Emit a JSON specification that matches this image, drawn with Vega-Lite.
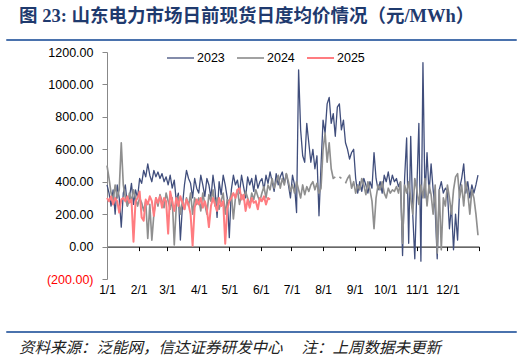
{
"$schema":"https://vega.github.io/schema/vega-lite/v6.json",
"padding":{"left":5,"top":6,"right":5,"bottom":0},
"background":"white",
"config":{"view":{"stroke":null},"font":"Liberation Sans"},
"datasets":{"prices":[
{"s":"2023","d":0,"v":380},{"s":"2023","d":2,"v":330},{"s":"2023","d":4,"v":250},{"s":"2023","d":6,"v":350},{"s":"2023","d":8,"v":200},{"s":"2023","d":10,"v":380},{"s":"2023","d":12,"v":300},{"s":"2023","d":14,"v":120},{"s":"2023","d":16,"v":330},{"s":"2023","d":18,"v":380},{"s":"2023","d":20,"v":250},{"s":"2023","d":22,"v":300},{"s":"2023","d":24,"v":390},{"s":"2023","d":26,"v":260},{"s":"2023","d":28,"v":350},{"s":"2023","d":30,"v":300},
{"s":"2023","d":32,"v":420},{"s":"2023","d":34,"v":390},{"s":"2023","d":36,"v":470},{"s":"2023","d":38,"v":430},{"s":"2023","d":40,"v":510},{"s":"2023","d":42,"v":440},{"s":"2023","d":44,"v":400},{"s":"2023","d":46,"v":470},{"s":"2023","d":48,"v":430},{"s":"2023","d":50,"v":460},{"s":"2023","d":52,"v":420},{"s":"2023","d":54,"v":450},{"s":"2023","d":56,"v":400},{"s":"2023","d":58,"v":430},
{"s":"2023","d":60,"v":380},{"s":"2023","d":62,"v":440},{"s":"2023","d":64,"v":360},{"s":"2023","d":66,"v":410},{"s":"2023","d":68,"v":280},{"s":"2023","d":70,"v":330},{"s":"2023","d":72,"v":40},{"s":"2023","d":74,"v":250},{"s":"2023","d":76,"v":380},{"s":"2023","d":78,"v":470},{"s":"2023","d":80,"v":420},{"s":"2023","d":82,"v":390},{"s":"2023","d":84,"v":300},{"s":"2023","d":86,"v":420},{"s":"2023","d":88,"v":360},
{"s":"2023","d":90,"v":330},{"s":"2023","d":92,"v":440},{"s":"2023","d":94,"v":380},{"s":"2023","d":96,"v":310},{"s":"2023","d":98,"v":420},{"s":"2023","d":100,"v":380},{"s":"2023","d":102,"v":300},{"s":"2023","d":104,"v":440},{"s":"2023","d":106,"v":350},{"s":"2023","d":108,"v":180},{"s":"2023","d":110,"v":400},{"s":"2023","d":112,"v":320},{"s":"2023","d":114,"v":440},{"s":"2023","d":116,"v":380},{"s":"2023","d":118,"v":300},
{"s":"2023","d":120,"v":55},{"s":"2023","d":122,"v":350},{"s":"2023","d":124,"v":440},{"s":"2023","d":126,"v":380},{"s":"2023","d":128,"v":410},{"s":"2023","d":130,"v":330},{"s":"2023","d":132,"v":440},{"s":"2023","d":134,"v":370},{"s":"2023","d":136,"v":300},{"s":"2023","d":138,"v":430},{"s":"2023","d":140,"v":380},{"s":"2023","d":142,"v":420},{"s":"2023","d":144,"v":340},{"s":"2023","d":146,"v":440},{"s":"2023","d":148,"v":360},{"s":"2023","d":150,"v":400},
{"s":"2023","d":152,"v":420},{"s":"2023","d":154,"v":350},{"s":"2023","d":156,"v":440},{"s":"2023","d":158,"v":390},{"s":"2023","d":160,"v":460},{"s":"2023","d":162,"v":400},{"s":"2023","d":164,"v":340},{"s":"2023","d":166,"v":450},{"s":"2023","d":168,"v":380},{"s":"2023","d":170,"v":430},{"s":"2023","d":172,"v":460},{"s":"2023","d":174,"v":390},{"s":"2023","d":176,"v":450},{"s":"2023","d":178,"v":380},{"s":"2023","d":180,"v":300},
{"s":"2023","d":182,"v":440},{"s":"2023","d":184,"v":380},{"s":"2023","d":186,"v":210},{"s":"2023","d":188,"v":1090},{"s":"2023","d":190,"v":720},{"s":"2023","d":192,"v":560},{"s":"2023","d":194,"v":520},{"s":"2023","d":196,"v":760},{"s":"2023","d":198,"v":640},{"s":"2023","d":200,"v":520},{"s":"2023","d":202,"v":600},{"s":"2023","d":204,"v":480},{"s":"2023","d":206,"v":560},{"s":"2023","d":208,"v":190},{"s":"2023","d":210,"v":500},
{"s":"2023","d":212,"v":780},{"s":"2023","d":214,"v":700},{"s":"2023","d":216,"v":880},{"s":"2023","d":218,"v":920},{"s":"2023","d":220,"v":760},{"s":"2023","d":222,"v":820},{"s":"2023","d":224,"v":680},{"s":"2023","d":226,"v":860},{"s":"2023","d":228,"v":880},{"s":"2023","d":230,"v":720},{"s":"2023","d":232,"v":780},{"s":"2023","d":234,"v":640},{"s":"2023","d":236,"v":600},{"s":"2023","d":238,"v":540},{"s":"2023","d":240,"v":580},
{"s":"2023","d":242,"v":600},{"s":"2023","d":244,"v":420},{"s":"2023","d":246,"v":330},{"s":"2023","d":248,"v":400},{"s":"2023","d":250,"v":340},{"s":"2023","d":252,"v":420},{"s":"2023","d":254,"v":380},{"s":"2023","d":256,"v":330},{"s":"2023","d":258,"v":400},{"s":"2023","d":260,"v":360},{"s":"2023","d":262,"v":580},{"s":"2023","d":264,"v":420},{"s":"2023","d":266,"v":350},{"s":"2023","d":268,"v":400},{"s":"2023","d":270,"v":330},{"s":"2023","d":272,"v":440},
{"s":"2023","d":274,"v":400},{"s":"2023","d":276,"v":460},{"s":"2023","d":278,"v":380},{"s":"2023","d":280,"v":440},{"s":"2023","d":282,"v":400},{"s":"2023","d":284,"v":420},{"s":"2023","d":286,"v":370},{"s":"2023","d":288,"v":400},{"s":"2023","d":290,"v":-55},{"s":"2023","d":292,"v":420},{"s":"2023","d":294,"v":670},{"s":"2023","d":296,"v":20},{"s":"2023","d":298,"v":680},{"s":"2023","d":300,"v":200},{"s":"2023","d":302,"v":-75},
{"s":"2023","d":304,"v":350},{"s":"2023","d":306,"v":760},{"s":"2023","d":308,"v":-90},{"s":"2023","d":310,"v":1135},{"s":"2023","d":312,"v":300},{"s":"2023","d":314,"v":580},{"s":"2023","d":316,"v":330},{"s":"2023","d":318,"v":510},{"s":"2023","d":320,"v":350},{"s":"2023","d":322,"v":230},{"s":"2023","d":324,"v":-75},{"s":"2023","d":326,"v":350},{"s":"2023","d":328,"v":400},{"s":"2023","d":330,"v":330},{"s":"2023","d":332,"v":360},
{"s":"2023","d":334,"v":340},{"s":"2023","d":336,"v":110},{"s":"2023","d":338,"v":250},{"s":"2023","d":340,"v":-20},{"s":"2023","d":342,"v":200},{"s":"2023","d":344,"v":40},{"s":"2023","d":346,"v":360},{"s":"2023","d":348,"v":420},{"s":"2023","d":350,"v":510},{"s":"2023","d":352,"v":330},{"s":"2023","d":354,"v":400},{"s":"2023","d":356,"v":300},{"s":"2023","d":358,"v":380},{"s":"2023","d":360,"v":330},{"s":"2023","d":362,"v":380},{"s":"2023","d":364,"v":440},
{"s":"2024","d":0,"v":500},{"s":"2024","d":2,"v":420},{"s":"2024","d":4,"v":330},{"s":"2024","d":6,"v":280},{"s":"2024","d":8,"v":380},{"s":"2024","d":10,"v":300},{"s":"2024","d":12,"v":350},{"s":"2024","d":14,"v":640},{"s":"2024","d":16,"v":380},{"s":"2024","d":18,"v":300},{"s":"2024","d":20,"v":250},{"s":"2024","d":22,"v":330},{"s":"2024","d":24,"v":280},{"s":"2024","d":26,"v":350},{"s":"2024","d":28,"v":300},{"s":"2024","d":30,"v":250},
{"s":"2024","d":32,"v":300},{"s":"2024","d":34,"v":270},{"s":"2024","d":36,"v":220},{"s":"2024","d":38,"v":280},{"s":"2024","d":40,"v":50},{"s":"2024","d":42,"v":260},{"s":"2024","d":44,"v":40},{"s":"2024","d":46,"v":200},{"s":"2024","d":48,"v":300},{"s":"2024","d":50,"v":250},{"s":"2024","d":52,"v":320},{"s":"2024","d":54,"v":280},{"s":"2024","d":56,"v":240},{"s":"2024","d":58,"v":330},
{"s":"2024","d":60,"v":280},{"s":"2024","d":62,"v":230},{"s":"2024","d":64,"v":300},{"s":"2024","d":66,"v":10},{"s":"2024","d":68,"v":250},{"s":"2024","d":70,"v":310},{"s":"2024","d":72,"v":200},{"s":"2024","d":74,"v":280},{"s":"2024","d":76,"v":230},{"s":"2024","d":78,"v":300},{"s":"2024","d":80,"v":250},{"s":"2024","d":82,"v":330},{"s":"2024","d":84,"v":200},{"s":"2024","d":86,"v":300},{"s":"2024","d":88,"v":260},
{"s":"2024","d":90,"v":300},{"s":"2024","d":92,"v":220},{"s":"2024","d":94,"v":330},{"s":"2024","d":96,"v":260},{"s":"2024","d":98,"v":200},{"s":"2024","d":100,"v":320},{"s":"2024","d":102,"v":280},{"s":"2024","d":104,"v":350},{"s":"2024","d":106,"v":250},{"s":"2024","d":108,"v":300},{"s":"2024","d":110,"v":230},{"s":"2024","d":112,"v":280},{"s":"2024","d":114,"v":330},{"s":"2024","d":116,"v":200},{"s":"2024","d":118,"v":290},
{"s":"2024","d":120,"v":280},{"s":"2024","d":122,"v":330},{"s":"2024","d":124,"v":170},{"s":"2024","d":126,"v":300},{"s":"2024","d":128,"v":350},{"s":"2024","d":130,"v":260},{"s":"2024","d":132,"v":320},{"s":"2024","d":134,"v":290},{"s":"2024","d":136,"v":340},{"s":"2024","d":138,"v":300},{"s":"2024","d":140,"v":250},{"s":"2024","d":142,"v":330},{"s":"2024","d":144,"v":290},{"s":"2024","d":146,"v":350},{"s":"2024","d":148,"v":310},{"s":"2024","d":150,"v":280},
{"s":"2024","d":152,"v":330},{"s":"2024","d":154,"v":370},{"s":"2024","d":156,"v":300},{"s":"2024","d":158,"v":380},{"s":"2024","d":160,"v":350},{"s":"2024","d":162,"v":420},{"s":"2024","d":164,"v":360},{"s":"2024","d":166,"v":400},{"s":"2024","d":168,"v":440},{"s":"2024","d":170,"v":360},{"s":"2024","d":172,"v":420},{"s":"2024","d":174,"v":380},{"s":"2024","d":176,"v":450},{"s":"2024","d":178,"v":400},{"s":"2024","d":180,"v":340},
{"s":"2024","d":182,"v":380},{"s":"2024","d":184,"v":330},{"s":"2024","d":186,"v":400},{"s":"2024","d":188,"v":350},{"s":"2024","d":190,"v":300},{"s":"2024","d":192,"v":380},{"s":"2024","d":194,"v":320},{"s":"2024","d":196,"v":370},{"s":"2024","d":198,"v":340},{"s":"2024","d":200,"v":380},{"s":"2024","d":202,"v":400},{"s":"2024","d":204,"v":350},{"s":"2024","d":206,"v":390},{"s":"2024","d":208,"v":330},{"s":"2024","d":210,"v":360},
{"s":"2024","d":212,"v":600},{"s":"2024","d":214,"v":700},{"s":"2024","d":216,"v":520},{"s":"2024","d":218,"v":640},{"s":"2024","d":220,"v":480},{"s":"2024","d":222,"v":420},{"s":"2024","d":224,"v":430},{"s":"2024","d":226,"v":null},{"s":"2024","d":228,"v":430},{"s":"2024","d":230,"v":420},{"s":"2024","d":232,"v":null},{"s":"2024","d":234,"v":390},{"s":"2024","d":236,"v":420},
{"s":"2024","d":238,"v":440},{"s":"2024","d":240,"v":360},{"s":"2024","d":242,"v":400},{"s":"2024","d":244,"v":330},{"s":"2024","d":246,"v":380},{"s":"2024","d":248,"v":350},{"s":"2024","d":250,"v":420},{"s":"2024","d":252,"v":380},{"s":"2024","d":254,"v":320},{"s":"2024","d":256,"v":400},{"s":"2024","d":258,"v":350},{"s":"2024","d":260,"v":280},{"s":"2024","d":262,"v":110},{"s":"2024","d":264,"v":300},{"s":"2024","d":266,"v":380},{"s":"2024","d":268,"v":350},{"s":"2024","d":270,"v":400},{"s":"2024","d":272,"v":330},
{"s":"2024","d":274,"v":300},{"s":"2024","d":276,"v":360},{"s":"2024","d":278,"v":330},{"s":"2024","d":280,"v":350},{"s":"2024","d":282,"v":340},{"s":"2024","d":284,"v":370},{"s":"2024","d":286,"v":330},{"s":"2024","d":288,"v":400},{"s":"2024","d":290,"v":20},{"s":"2024","d":292,"v":380},{"s":"2024","d":294,"v":330},{"s":"2024","d":296,"v":400},{"s":"2024","d":298,"v":300},{"s":"2024","d":300,"v":200},{"s":"2024","d":302,"v":420},{"s":"2024","d":304,"v":350},{"s":"2024","d":306,"v":260},
{"s":"2024","d":308,"v":380},{"s":"2024","d":310,"v":300},{"s":"2024","d":312,"v":420},{"s":"2024","d":314,"v":250},{"s":"2024","d":316,"v":380},{"s":"2024","d":318,"v":320},{"s":"2024","d":320,"v":200},{"s":"2024","d":322,"v":380},{"s":"2024","d":324,"v":-40},{"s":"2024","d":326,"v":350},{"s":"2024","d":328,"v":-20},{"s":"2024","d":330,"v":300},{"s":"2024","d":332,"v":250},{"s":"2024","d":334,"v":380},
{"s":"2024","d":336,"v":300},{"s":"2024","d":338,"v":200},{"s":"2024","d":340,"v":350},{"s":"2024","d":342,"v":430},{"s":"2024","d":344,"v":450},{"s":"2024","d":346,"v":300},{"s":"2024","d":348,"v":380},{"s":"2024","d":350,"v":250},{"s":"2024","d":352,"v":400},{"s":"2024","d":354,"v":330},{"s":"2024","d":356,"v":200},{"s":"2024","d":358,"v":350},{"s":"2024","d":360,"v":300},{"s":"2024","d":362,"v":200},{"s":"2024","d":364,"v":70},
{"s":"2025","d":0,"v":300},{"s":"2025","d":2,"v":280},{"s":"2025","d":4,"v":310},{"s":"2025","d":6,"v":260},{"s":"2025","d":8,"v":300},{"s":"2025","d":10,"v":280},{"s":"2025","d":12,"v":210},{"s":"2025","d":14,"v":290},{"s":"2025","d":16,"v":300},{"s":"2025","d":18,"v":280},{"s":"2025","d":20,"v":310},{"s":"2025","d":22,"v":270},{"s":"2025","d":24,"v":290},{"s":"2025","d":26,"v":30},{"s":"2025","d":28,"v":280},{"s":"2025","d":30,"v":300},
{"s":"2025","d":32,"v":340},{"s":"2025","d":34,"v":180},{"s":"2025","d":36,"v":160},{"s":"2025","d":38,"v":290},{"s":"2025","d":40,"v":260},{"s":"2025","d":42,"v":310},{"s":"2025","d":44,"v":280},{"s":"2025","d":46,"v":190},{"s":"2025","d":48,"v":300},{"s":"2025","d":50,"v":270},{"s":"2025","d":52,"v":310},{"s":"2025","d":54,"v":240},{"s":"2025","d":56,"v":300},{"s":"2025","d":58,"v":280},
{"s":"2025","d":60,"v":80},{"s":"2025","d":62,"v":340},{"s":"2025","d":64,"v":280},{"s":"2025","d":66,"v":220},{"s":"2025","d":68,"v":300},{"s":"2025","d":70,"v":250},{"s":"2025","d":72,"v":310},{"s":"2025","d":74,"v":270},{"s":"2025","d":76,"v":230},{"s":"2025","d":78,"v":290},{"s":"2025","d":80,"v":260},{"s":"2025","d":82,"v":200},{"s":"2025","d":84,"v":5},{"s":"2025","d":86,"v":240},{"s":"2025","d":88,"v":290},
{"s":"2025","d":90,"v":260},{"s":"2025","d":92,"v":300},{"s":"2025","d":94,"v":240},{"s":"2025","d":96,"v":280},{"s":"2025","d":98,"v":230},{"s":"2025","d":100,"v":120},{"s":"2025","d":102,"v":250},{"s":"2025","d":104,"v":300},{"s":"2025","d":106,"v":260},{"s":"2025","d":108,"v":220},{"s":"2025","d":110,"v":300},{"s":"2025","d":112,"v":250},{"s":"2025","d":114,"v":280},{"s":"2025","d":116,"v":18},{"s":"2025","d":118,"v":230},
{"s":"2025","d":120,"v":280},{"s":"2025","d":122,"v":300},{"s":"2025","d":124,"v":330},{"s":"2025","d":126,"v":300},{"s":"2025","d":128,"v":350},{"s":"2025","d":130,"v":360},{"s":"2025","d":132,"v":290},{"s":"2025","d":134,"v":320},{"s":"2025","d":136,"v":220},{"s":"2025","d":138,"v":290},{"s":"2025","d":140,"v":240},{"s":"2025","d":142,"v":300},{"s":"2025","d":144,"v":270},{"s":"2025","d":146,"v":280},{"s":"2025","d":148,"v":230},{"s":"2025","d":150,"v":300},
{"s":"2025","d":152,"v":280},{"s":"2025","d":154,"v":310},{"s":"2025","d":156,"v":260},{"s":"2025","d":158,"v":300},{"s":"2025","d":160,"v":290}
]},
"spacing":-2,
"vconcat":[
{
"width":510,"height":1,
"data":{"values":[{}]},
"mark":{"type":"text"},
"encoding":{"text":{"value":""}},
"view":{"stroke":"#4a72ad","strokeWidth":1},
"title":{"text":"图 23:   山东电力市场日前现货日度均价情况（元/MWh）","anchor":"start","fontSize":18.5,"font":"Liberation Serif, Noto Sans CJK SC","fontWeight":"bold","color":"#1f3a6e","dx":13,"offset":8}
},
{
"spacing":29,
"vconcat":[
{
"spacing":0,
"resolve":{"legend":{"color":"independent","strokeWidth":"independent"}},
"hconcat":[
{
"width":40,"height":227,
"data":{"values":[{}]},
"mark":{"type":"text"},
"encoding":{"text":{"value":""}}
},
{
"width":372,"height":227,
"data":{"name":"prices"},
"mark":{"type":"line","strokeJoin":"round"},
"encoding":{
"x":{"field":"d","type":"quantitative","scale":{"domain":[0,365],"nice":false,"zero":false},
"axis":{"values":[0,31,59,90,120,151,181,212,243,273,304,334,365],"labelExpr":"['1/1','2/1','3/1','4/1','5/1','6/1','7/1','8/1','9/1','10/1','11/1','12/1',''][indexof([0,31,59,90,120,151,181,212,243,273,304,334,365], datum.value)]","title":null,"grid":false,"offset":-32.4,"domainColor":"#000","tickColor":"#000","tickSize":4,"labelPadding":34,"labelFontSize":12,"labelColor":"#000","labelFlush":false,"labelOverlap":false}},
"y":{"field":"v","type":"quantitative","scale":{"domain":[-200,1200],"nice":false},
"axis":{"values":[-200,0,200,400,600,800,1000,1200],"labelExpr":"datum.value < 0 ? '(' + format(-datum.value, '.2f') + ')' : format(datum.value, '.2f')","labelColor":{"condition":{"test":"datum.value < 0","value":"#ff0000"},"value":"#000"},"title":null,"grid":false,"domainColor":"#888","tickColor":"#888","tickSize":5,"labelPadding":9,"labelFontSize":12.5}},
"color":{"field":"s","type":"nominal","scale":{"domain":["2023","2024","2025"],"range":["#404e7c","#8f8f8f","#ff7c80"]},
"legend":{"orient":"none","legendX":59,"legendY":-8.5,"direction":"horizontal","title":null,"symbolType":"stroke","symbolSize":729,"labelFontSize":12.5,"labelColor":"#000","columnPadding":8,"labelOffset":2}},
"strokeWidth":{"field":"s","type":"ordinal","scale":{"domain":["2023","2024","2025"],"range":[1.3,2,3]},
"legend":{"orient":"none","legendX":59,"legendY":-8.5,"direction":"horizontal","title":null,"symbolType":"stroke","symbolSize":729,"labelFontSize":12.5,"labelColor":"#000","columnPadding":8,"labelOffset":2}}
}
}
]
},
{
"width":510,"height":1,
"data":{"values":[{}]},
"mark":{"type":"text"},
"encoding":{"text":{"value":""}},
"view":{"stroke":"#4a72ad","strokeWidth":1},
"title":{"text":"资料来源：泛能网，信达证券研发中心　 注：上周数据未更新","orient":"bottom","anchor":"start","fontSize":15.5,"fontStyle":"italic","fontWeight":"normal","font":"Noto Sans CJK SC","color":"#222","dx":13,"offset":4}
}
]
}
]
}
